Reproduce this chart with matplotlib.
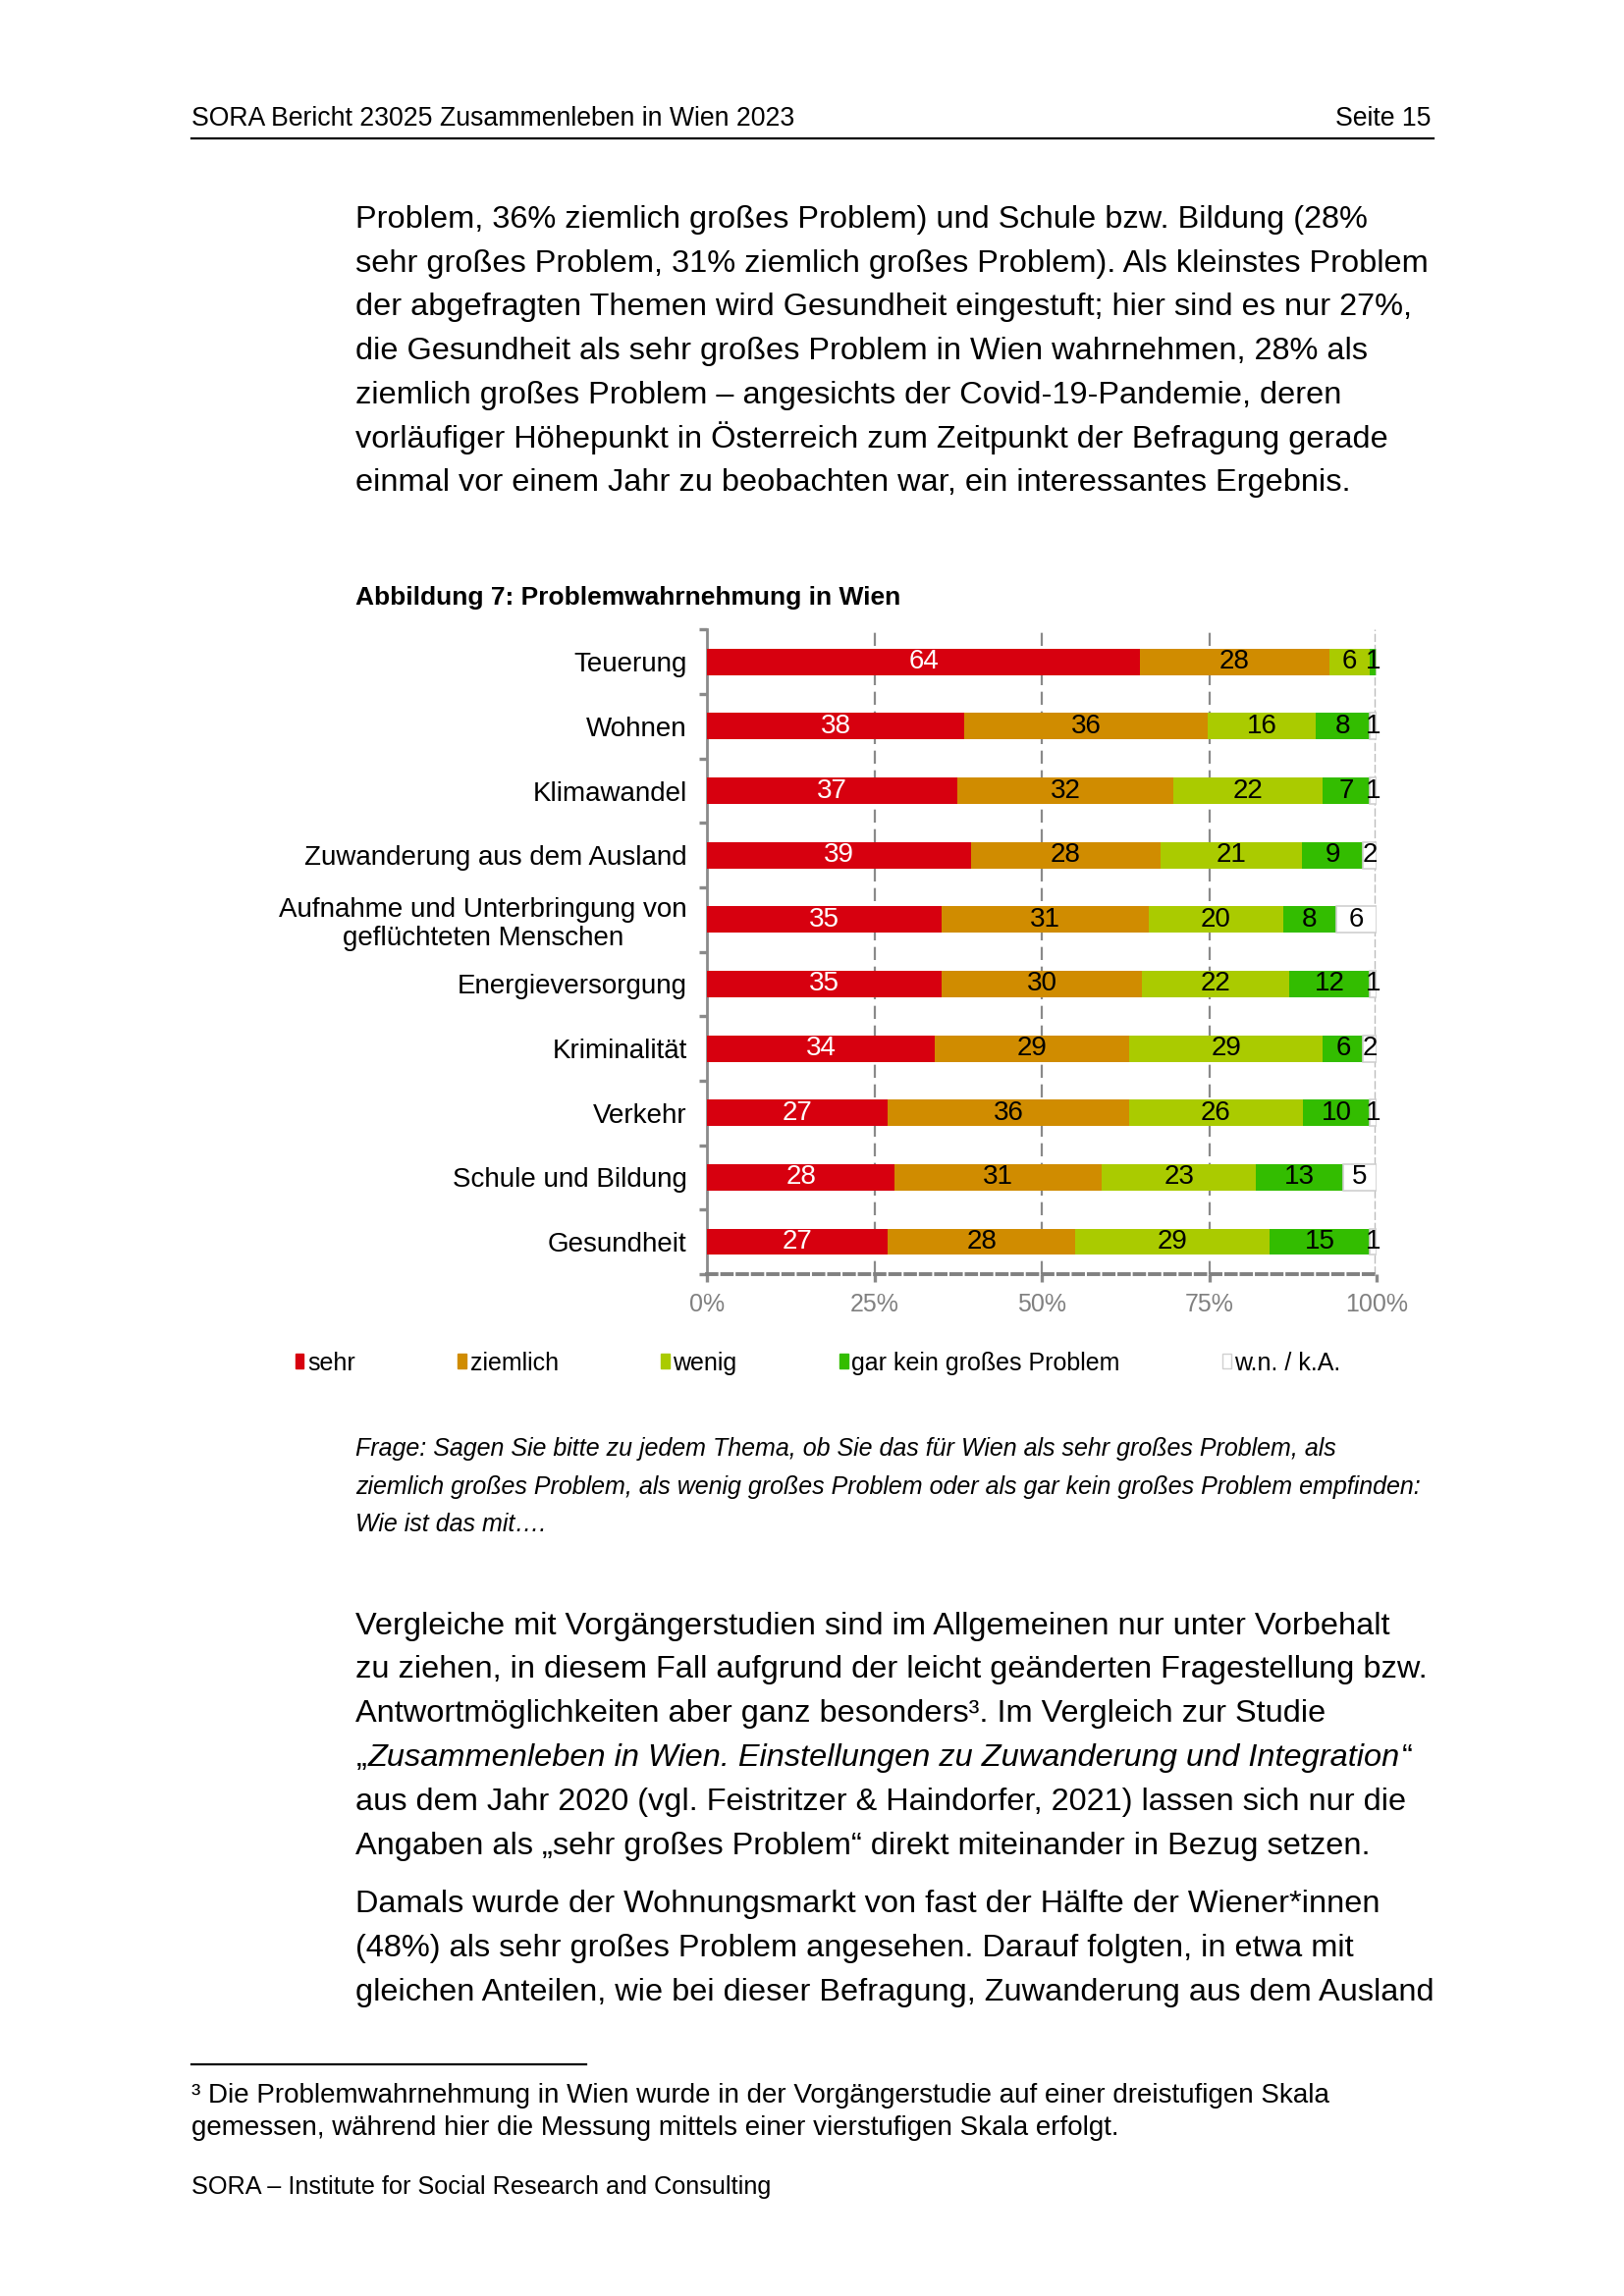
import numpy as np
import matplotlib
matplotlib.use("Agg")
import matplotlib.pyplot as plt
from matplotlib.patches import Patch

plt.rcParams['font.family'] = ['Liberation Sans', 'DejaVu Sans']

# Daten (Anteile in %)
categories = ["Teuerung", "Wohnen", "Klimawandel", "Zuwanderung aus dem Ausland",
              "Aufnahme und Unterbringung von\ngeflüchteten Menschen",
              "Energieversorgung", "Kriminalität", "Verkehr", "Schule und Bildung",
              "Gesundheit"]
sehr = [64, 38, 37, 39, 35, 35, 34, 27, 28, 27]
ziemlich = [28, 36, 32, 28, 31, 30, 29, 36, 31, 28]
wenig = [6, 16, 22, 21, 20, 22, 29, 26, 23, 29]
gar_kein = [1, 8, 7, 9, 8, 12, 6, 10, 13, 15]
wn_ka = [0, 1, 1, 2, 6, 1, 2, 1, 5, 1]

series_names = ["sehr", "ziemlich", "wenig", "gar kein großes Problem", "w.n. / k.A."]
series_colors = ["#d7000f", "#d08c00", "#aacb00", "#33bd00", "#ffffff"]
label_colors = ["white", "black", "black", "black", "black"]
x_ticks = [0, 25, 50, 75, 100]
x_ticklabels = ["0%", "25%", "50%", "75%", "100%"]

body1 = ["Problem, 36% ziemlich großes Problem) und Schule bzw. Bildung (28%",
         "sehr großes Problem, 31% ziemlich großes Problem). Als kleinstes Problem",
         "der abgefragten Themen wird Gesundheit eingestuft; hier sind es nur 27%,",
         "die Gesundheit als sehr großes Problem in Wien wahrnehmen, 28% als",
         "ziemlich großes Problem – angesichts der Covid-19-Pandemie, deren",
         "vorläufiger Höhepunkt in Österreich zum Zeitpunkt der Befragung gerade",
         "einmal vor einem Jahr zu beobachten war, ein interessantes Ergebnis."]
frage = ["Frage: Sagen Sie bitte zu jedem Thema, ob Sie das für Wien als sehr großes Problem, als",
         "ziemlich großes Problem, als wenig großes Problem oder als gar kein großes Problem empfinden:",
         "Wie ist das mit…."]
body2 = ["Vergleiche mit Vorgängerstudien sind im Allgemeinen nur unter Vorbehalt",
         "zu ziehen, in diesem Fall aufgrund der leicht geänderten Fragestellung bzw.",
         "Antwortmöglichkeiten aber ganz besonders³. Im Vergleich zur Studie",
         None,
         "aus dem Jahr 2020 (vgl. Feistritzer & Haindorfer, 2021) lassen sich nur die",
         "Angaben als „sehr großes Problem“ direkt miteinander in Bezug setzen."]
body3 = ["Damals wurde der Wohnungsmarkt von fast der Hälfte der Wiener*innen",
         "(48%) als sehr großes Problem angesehen. Darauf folgten, in etwa mit",
         "gleichen Anteilen, wie bei dieser Befragung, Zuwanderung aus dem Ausland"]
footnote = ["³ Die Problemwahrnehmung in Wien wurde in der Vorgängerstudie auf einer dreistufigen Skala",
            "gemessen, während hier die Messung mittels einer vierstufigen Skala erfolgt."]

# Seitenkoordinaten (Referenz 1109 x 1568)
W, H = 1109, 1568
def fx(x):
    return x / W
def fy(y):
    return 1 - y / H

fig = plt.figure(figsize=(8.27, 11.695), dpi=200)
BODY = 11.7

# Kopfzeile
fig.text(fx(131), fy(86), "SORA Bericht 23025 Zusammenleben in Wien 2023", fontsize=9.6, va='baseline')
fig.text(fx(977), fy(86), "Seite 15", fontsize=9.6, va='baseline', ha='right')
fig.add_artist(plt.Line2D([fx(131), fx(979)], [fy(94.5), fy(94.5)], color='black', lw=0.8))

for i, line in enumerate(body1):
    fig.text(fx(243), fy(155.5 + 30 * i), line, fontsize=BODY, va='baseline')

fig.text(fx(243), fy(413), "Abbildung 7: Problemwahrnehmung in Wien", fontsize=9.5,
         fontweight='bold', va='baseline')

# Diagramm
ax = fig.add_axes([fx(483), fy(870), fx(940) - fx(483), (870 - 430) / H])
vals = np.array([sehr, ziemlich, wenig, gar_kein, wn_ka], dtype=float)
widths = vals / vals.sum(axis=0) * 100
y = np.arange(len(categories))
left = np.zeros(len(categories))
for k in range(len(series_names)):
    ec = '#d0d0d0' if k == 4 else 'none'
    bars = ax.barh(y, widths[k], left=left, height=0.41, color=series_colors[k],
                   edgecolor=ec, linewidth=0.6, zorder=3)
    labels = [str(int(v)) if v > 0 else "" for v in vals[k]]
    ax.bar_label(bars, labels=labels, label_type='center', color=label_colors[k],
                 fontsize=10, zorder=4)
    left += widths[k]

for xv in x_ticks[1:4]:
    ax.axvline(xv, color='#8a8a8a', lw=0.8, ls=(0, (6, 3)), zorder=2)
for off in (-0.25, 0.25):
    ax.axvline(100 + off, color='#bdbdbd', lw=0.5, ls=(0, (6, 2)), zorder=2)

ax.set_xlim(0, 100)
ax.set_ylim(len(categories) - 0.5, -0.5)
ax.set_xticks(x_ticks)
ax.set_xticklabels(x_ticklabels, color='#808080', fontsize=9)
ax.set_yticks(y)
ax.set_yticklabels(categories, fontsize=10, multialignment='center', linespacing=1.15)
ax.set_yticks(np.arange(-0.5, len(categories), 1), minor=True)
ax.tick_params(axis='y', which='major', length=0, pad=7.5)
ax.tick_params(axis='y', which='minor', length=3, width=1.2, color='#8a8a8a', direction='out')
ax.tick_params(axis='x', length=3, width=1.2, color='#8a8a8a', pad=4)
for s in ['top', 'right']:
    ax.spines[s].set_visible(False)
ax.spines['left'].set_color('#8a8a8a')
ax.spines['left'].set_linewidth(1.0)
ax.spines['bottom'].set_color('#808080')
ax.spines['bottom'].set_linewidth(1.4)
ax.spines['bottom'].set_linestyle((0, (2.5, 1.5)))

# Legende
handles = [Patch(facecolor=c, edgecolor=('#d0d0d0' if c == '#ffffff' else c), linewidth=0.5)
           for c in series_colors]
fig.legend(handles, series_names, loc='center left', bbox_to_anchor=(fx(201.5), fy(931)),
           ncol=5, frameon=False, fontsize=9, handlelength=0.35, handleheight=0.55,
           handletextpad=0.15, columnspacing=4.17, borderpad=0, borderaxespad=0)

for i, line in enumerate(frage):
    fig.text(fx(243), fy(994 + 26 * i), line, fontsize=9, style='italic', va='baseline')

# zweiter Absatz, mit kursivem Titel in Zeile 4
renderer = fig.canvas.get_renderer()
for i, line in enumerate(body2):
    yy = fy(1116 + 30 * i)
    if line is not None:
        fig.text(fx(243), yy, line, fontsize=BODY, va='baseline')
        continue
    cur = fx(243)
    for part, st in [("„", 'normal'),
                     ("Zusammenleben in Wien. Einstellungen zu Zuwanderung und Integration", 'italic'),
                     ("“", 'normal')]:
        t = fig.text(cur, yy, part, fontsize=BODY, style=st, va='baseline')
        cur += t.get_window_extent(renderer=renderer).width / fig.bbox.width + 0.001

for i, line in enumerate(body3):
    fig.text(fx(243), fy(1306 + 30 * i), line, fontsize=BODY, va='baseline')

fig.add_artist(plt.Line2D([fx(131), fx(400)], [fy(1410), fy(1410)], color='black', lw=0.8))
for i, line in enumerate(footnote):
    fig.text(fx(131), fy(1436 + 22 * i), line, fontsize=10, va='baseline')
fig.text(fx(131), fy(1498), "SORA – Institute for Social Research and Consulting", fontsize=9.1,
         va='baseline')

fig.savefig("out.png", dpi=200, facecolor='white')
